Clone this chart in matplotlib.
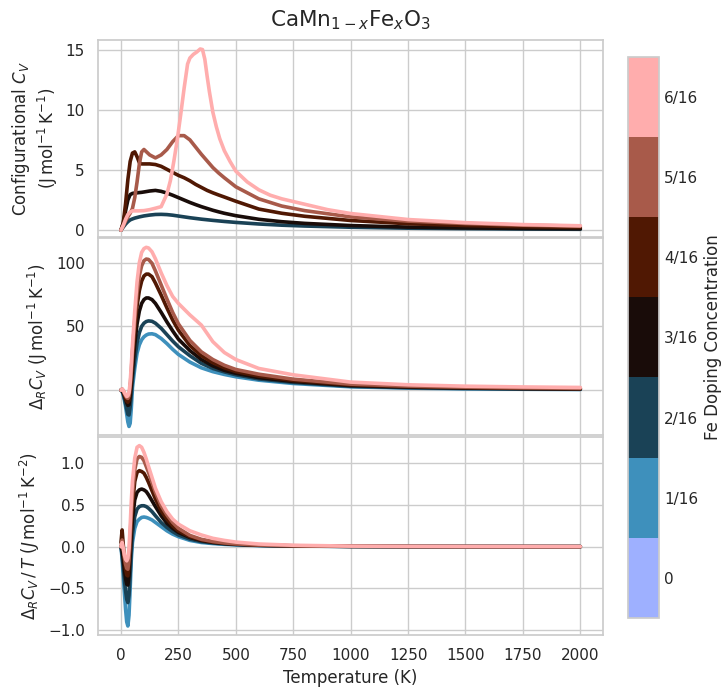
import numpy as np
import matplotlib
matplotlib.use('Agg')
import matplotlib.pyplot as plt
import seaborn as sns
from matplotlib.colors import ListedColormap, BoundaryNorm

sns.set_theme(style='whitegrid', context='notebook')

# Fe doping levels (x in CaMn1-xFexO3)
dopings = ['0', '1/16', '2/16', '3/16', '4/16', '5/16', '6/16']

# configurational heat capacity (J/mol/K), x = 2/16 .. 5/16
T_cv = [0, 10, 20, 30, 40, 50, 60, 70, 80, 90, 100, 125, 150, 175, 200, 225, 250, 275,
        300, 325, 350, 375, 400, 425, 450, 500, 600, 700, 800, 1000, 1250, 1500, 1750, 2000]
cv_2 = [0, 0.25, 0.5, 0.7, 0.85, 0.93, 1.0, 1.05, 1.1, 1.14, 1.18, 1.25, 1.3, 1.31, 1.29, 1.24, 1.17, 1.1,
        1.03, 0.97, 0.91, 0.86, 0.81, 0.765, 0.72, 0.64, 0.51, 0.41, 0.34, 0.24, 0.16, 0.12, 0.09, 0.07]
cv_3 = [0, 0.6, 1.6, 2.5, 2.95, 3.05, 3.08, 3.1, 3.12, 3.14, 3.17, 3.25, 3.3, 3.22, 3.08, 2.9, 2.7, 2.5,
        2.3, 2.12, 1.95, 1.8, 1.65, 1.52, 1.4, 1.2, 0.9, 0.7, 0.56, 0.38, 0.25, 0.18, 0.14, 0.11]
cv_4 = [0, 0.6, 2.2, 4.2, 5.7, 6.4, 6.5, 6.1, 5.6, 5.5, 5.5, 5.5, 5.45, 5.3, 5.05, 4.8, 4.55, 4.35,
        4.1, 3.8, 3.55, 3.3, 3.1, 2.92, 2.75, 2.4, 1.75, 1.4, 1.15, 0.8, 0.53, 0.38, 0.28, 0.22]
cv_5 = [0, 0.35, 0.75, 1.1, 1.4, 1.8, 2.7, 4.0, 5.5, 6.5, 6.7, 6.25, 6.0, 6.25, 6.7, 7.35, 7.85, 7.85,
        7.5, 6.9, 6.3, 5.75, 5.2, 4.75, 4.35, 3.6, 2.6, 2.0, 1.62, 1.1, 0.75, 0.55, 0.41, 0.33]
# x = 6/16 has a sharp peak, sampled more finely
T_cv6 = [0, 10, 20, 30, 40, 50, 75, 100, 125, 150, 175, 200, 215, 230, 245, 260, 275, 290, 300, 315,
         330, 345, 355, 365, 375, 385, 400, 415, 430, 450, 475, 500, 550, 600, 650, 700, 800, 900,
         1000, 1250, 1500, 1750, 2000]
cv_6 = [0, 0.4, 0.9, 1.3, 1.5, 1.6, 1.6, 1.62, 1.7, 1.82, 1.95, 3.0, 4.1, 5.7, 7.5, 9.6, 11.8, 13.8, 14.3, 14.6,
        14.8, 15.05, 15.0, 14.2, 12.8, 11.5, 9.8, 8.6, 7.6, 6.6, 5.7, 4.9, 4.0, 3.35, 2.9, 2.6, 2.15, 1.7,
        1.38, 0.88, 0.62, 0.46, 0.36]

# reaction heat capacity and reaction heat capacity / T, x = 1/16 .. 6/16
T_d = [0, 5, 10, 15, 20, 25, 30, 35, 40, 45, 50, 60, 70, 80, 90, 100, 110, 120, 135, 150,
       175, 200, 225, 250, 300, 350, 400, 450, 500, 600, 750, 1000, 1250, 1500, 1750, 2000]
dcv_1 = [0, -1, -4, -8, -13, -19, -25, -28.5, -26, -14, 2, 17, 29, 35.5, 39.5, 41.8, 43.2, 44, 44.2, 43.5,
         40.5, 36.5, 32, 28, 22, 17.5, 14.5, 12.3, 10.5, 7.8, 5.2, 2.6, 1.6, 1.0, 0.7, 0.5]
dcv_2 = [0, -1, -3, -6.5, -10.5, -15, -19, -19.5, -13, -3, 8, 24, 37, 45, 50, 52.5, 53.8, 54.3, 54, 52.5,
         48.5, 43.5, 38.5, 34, 27, 21, 17, 14.3, 12, 8.8, 6.0, 3.0, 1.9, 1.3, 0.9, 0.7]
dcv_3 = [0, -0.5, -2, -4.5, -7, -10, -12, -11.5, -5, 5, 16, 36, 52, 62, 68, 71, 72.3, 72.3, 71, 68,
         61, 53.5, 46.5, 40, 31, 24, 19, 15.5, 13.2, 9.8, 6.8, 3.6, 2.3, 1.6, 1.2, 0.9]
dcv_4 = [0, 0.8, -1, -3.5, -6, -8.5, -9.5, -8, 0, 11, 24, 47, 66, 78, 85.5, 89.5, 91, 91, 89, 84,
         74.5, 64.5, 55, 47, 35, 27, 21.5, 17.5, 14.6, 11, 7.6, 4.1, 2.7, 1.9, 1.4, 1.1]
dcv_5 = [0, 0.5, -0.5, -2.5, -4.5, -6, -6.5, -4.5, 3, 15, 30, 55, 76, 90, 97.5, 101.5, 102.8, 102.5, 99.5, 93.5,
         82.5, 71.5, 61, 52, 39, 30, 24, 19.5, 16.2, 12.5, 8.6, 4.7, 3.2, 2.3, 1.8, 1.4]
dcv_6 = [0, 1, 0, -2, -3.5, -5, -4.5, -2, 6, 20, 35, 62, 85, 100, 108, 111, 112, 111.5, 108.5, 103,
         92, 82, 73.5, 68, 59, 51, 38, 29.5, 24, 17, 12, 6.3, 4.2, 3.1, 2.5, 2.1]

dcvT_1 = [0, -0.15, -0.35, -0.55, -0.75, -0.9, -0.95, -0.82, -0.5, -0.15, 0.05, 0.22, 0.3, 0.33, 0.35, 0.355,
          0.35, 0.34, 0.32, 0.29, 0.24, 0.19, 0.15, 0.12, 0.075, 0.05, 0.037, 0.028, 0.021, 0.013, 0.007,
          0.003, 0.0015, 0.0008, 0.0005, 0.0003]
dcvT_2 = [0, -0.1, -0.25, -0.4, -0.53, -0.63, -0.67, -0.58, -0.32, -0.05, 0.15, 0.36, 0.45, 0.48, 0.49, 0.49,
          0.48, 0.46, 0.42, 0.37, 0.29, 0.23, 0.18, 0.14, 0.09, 0.06, 0.044, 0.033, 0.025, 0.015, 0.008,
          0.003, 0.0015, 0.0009, 0.0005, 0.0003]
dcvT_3 = [0, -0.05, -0.15, -0.28, -0.38, -0.45, -0.46, -0.35, -0.1, 0.15, 0.33, 0.56, 0.65, 0.68, 0.69, 0.68,
          0.66, 0.62, 0.55, 0.48, 0.37, 0.28, 0.22, 0.17, 0.11, 0.073, 0.052, 0.038, 0.029, 0.017, 0.009,
          0.0036, 0.0018, 0.001, 0.0006, 0.0004]
dcvT_4 = [0.05, 0.2, 0.02, -0.15, -0.27, -0.34, -0.35, -0.22, 0.05, 0.3, 0.5, 0.78, 0.89, 0.91, 0.9, 0.88,
          0.83, 0.77, 0.67, 0.57, 0.43, 0.33, 0.25, 0.19, 0.12, 0.08, 0.056, 0.041, 0.031, 0.018, 0.01,
          0.004, 0.002, 0.0011, 0.0007, 0.0005]
dcvT_5 = [0, 0.08, -0.03, -0.13, -0.21, -0.26, -0.27, -0.15, 0.12, 0.4, 0.62, 0.92, 1.05, 1.08, 1.07, 1.03,
          0.96, 0.89, 0.77, 0.65, 0.49, 0.38, 0.29, 0.22, 0.135, 0.088, 0.062, 0.045, 0.034, 0.02, 0.011,
          0.0047, 0.0025, 0.0015, 0.001, 0.0007]
dcvT_6 = [0, 0.05, -0.02, -0.1, -0.15, -0.17, -0.14, -0.02, 0.25, 0.55, 0.78, 1.06, 1.19, 1.21, 1.19, 1.13,
          1.05, 0.96, 0.83, 0.7, 0.54, 0.42, 0.33, 0.27, 0.19, 0.14, 0.1, 0.075, 0.055, 0.032, 0.017,
          0.0065, 0.0035, 0.002, 0.0014, 0.001]

cv_series = {2: (T_cv, cv_2), 3: (T_cv, cv_3), 4: (T_cv, cv_4), 5: (T_cv, cv_5), 6: (T_cv6, cv_6)}
dcv_series = {1: dcv_1, 2: dcv_2, 3: dcv_3, 4: dcv_4, 5: dcv_5, 6: dcv_6}
dcvT_series = {1: dcvT_1, 2: dcvT_2, 3: dcvT_3, 4: dcvT_4, 5: dcvT_5, 6: dcvT_6}

try:
    base = matplotlib.colormaps['berlin']
    cols = [base(i / 6) for i in range(7)]
except KeyError:
    cols = ['#a0aefc', '#3b8fbd', '#1b4256', '#170b09', '#521a06', '#a3574a', '#ffaaaa']
cmap = ListedColormap(cols)
norm = BoundaryNorm(np.arange(-0.5, 7.5, 1), cmap.N)

fig = plt.figure(figsize=(7.26, 6.95), dpi=100)
ax1 = fig.add_axes([0.135, 0.6585, 0.696, 0.284])
ax2 = fig.add_axes([0.135, 0.3735, 0.696, 0.2835])
ax3 = fig.add_axes([0.135, 0.0863, 0.696, 0.2855], sharex=ax1)
ax2.sharex(ax1)

for i, (t, y) in cv_series.items():
    ax1.plot(t, y, color=cols[i], lw=2.6)
for i, y in dcv_series.items():
    ax2.plot(T_d, y, color=cols[i], lw=2.6)
for i, y in dcvT_series.items():
    ax3.plot(T_d, y, color=cols[i], lw=2.6)

ax1.set_title(r'CaMn$_{1-x}$Fe$_x$O$_3$', fontsize=15.5, pad=10)
ax1.set_ylabel('Configurational $C_V$\n' + r'(J$\,$mol$^{-1}\,$K$^{-1}$)', fontsize=12)
ax2.set_ylabel(r'$\Delta_R C_V$ (J$\,$mol$^{-1}\,$K$^{-1}$)', fontsize=12)
ax3.set_ylabel(r'$\Delta_R C_V\,/\,T$ ($J\,$mol$^{-1}\,$K$^{-2}$)', fontsize=12)
ax3.set_xlabel('Temperature (K)', fontsize=12)

ax1.set_ylim(-0.6, 15.8)
ax1.set_yticks([0, 5, 10, 15])
ax2.set_yticks([0, 50, 100])
ax3.set_yticks([-1.0, -0.5, 0.0, 0.5, 1.0])
ax3.set_xticks(np.arange(0, 2001, 250))
for ax in (ax1, ax2):
    ax.tick_params(labelbottom=False)
for ax in (ax1, ax2, ax3):
    ax.tick_params(labelsize=11)

cax = fig.add_axes([0.865, 0.111, 0.043, 0.807])
sm = plt.cm.ScalarMappable(cmap=cmap, norm=norm)
cb = fig.colorbar(sm, cax=cax, ticks=range(7))
cb.ax.minorticks_off()
cb.ax.set_yticklabels(dopings)
cb.ax.tick_params(which='both', length=0, labelsize=11)
cb.outline.set_edgecolor('#cccccc')
cb.set_label('Fe Doping Concentration', fontsize=12)

fig.savefig('out.png', dpi=100)
